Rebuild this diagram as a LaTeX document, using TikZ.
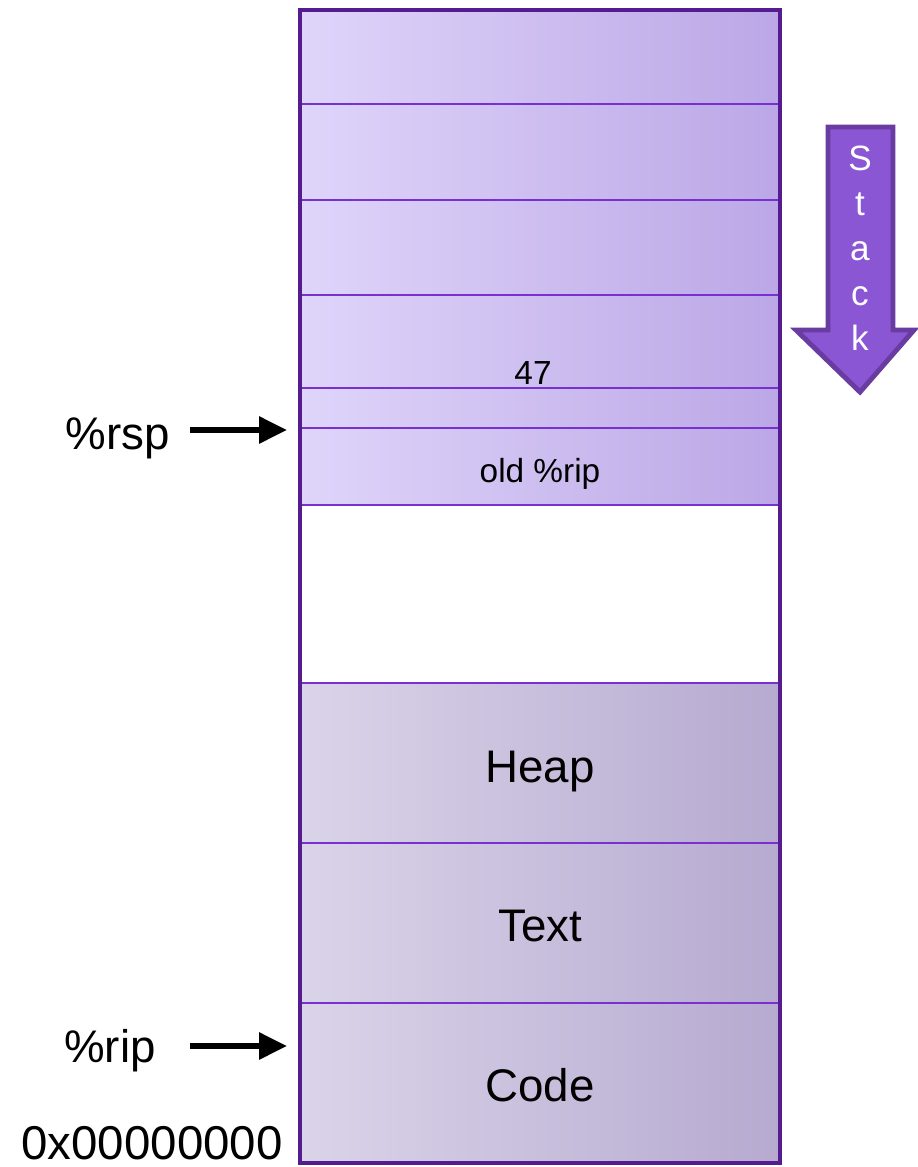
\documentclass[tikz,border=0pt]{standalone}
\usepackage{fontspec}
\setmainfont{Liberation Sans}
\usetikzlibrary{arrows.meta}
\definecolor{framepurple}{RGB}{85,27,145}
\definecolor{linepurple}{RGB}{122,48,208}
\definecolor{stackleft}{RGB}{223,213,250}
\definecolor{stackright}{RGB}{187,167,230}
\definecolor{memleft}{RGB}{218,212,233}
\definecolor{memright}{RGB}{182,170,208}
\definecolor{arrowfill}{RGB}{139,86,212}
\definecolor{arrowedge}{RGB}{104,60,160}

\begin{document}
\begin{tikzpicture}[x=0.02cm, y=-0.02cm,
stackcell/.style={draw=linepurple, line width=1.1pt, left color=stackleft, right color=stackright},
memcell/.style={draw=linepurple, line width=1.1pt, left color=memleft, right color=memright},
big/.style={font=\fontsize{26}{30}\selectfont, anchor=base},
small/.style={font=\fontsize{19}{23}\selectfont, anchor=base},
stackletter/.style={font=\fontsize{20}{24}\selectfont, text=white, anchor=base},
pointer/.style={line width=3.4pt, -{Triangle[length=0.56cm,width=0.52cm]}}]
\useasboundingbox (0,0) rectangle (918,1167);
%================================================================
%	Stack frames
\draw[stackcell] (300,10) rectangle (780,104);
\draw[stackcell] (300,104) rectangle (780,200);
\draw[stackcell] (300,200) rectangle (780,295);
\draw[stackcell] (300,295) rectangle (780,388);
\draw[stackcell] (300,388) rectangle (780,428);
\draw[stackcell] (300,428) rectangle (780,505);

%	Heap, text, code
\draw[memcell] (300,683) rectangle (780,843);
\draw[memcell] (300,843) rectangle (780,1003);
\draw[memcell] (300,1003) rectangle (780,1163);

%	Outer frame
\draw[framepurple, line width=2.4pt] (300,10) rectangle (780,1163);

%================================================================
%	Nodes
\node[small] (val) at (533,384) {47};
\node[small] (oldrip) at (540,482) {old \%rip};

\node[big] (heap) at (540,782) {Heap};
\node[big] (text) at (540,941) {Text};
\node[big] (code) at (540,1101) {Code};

\node[big] (rsp) at (118,449) {\%rsp};
\node[big] (rip) at (110,1062) {\%rip};
\node[big, font=\fontsize{27}{31}\selectfont] (addr) at (152,1159) {0x00000000};

\coordinate (rsptip) at (287,430);
\coordinate (riptip) at (287,1046);

%----------------------------------------------------------------
%	Stack grows down
\draw[fill=arrowfill, draw=arrowedge, line width=2.8pt, line join=miter]
  (828,127) -- (893,127) -- (893,330) -- (914,330) -- (860,392)
  -- (796,330) -- (828,330) -- cycle;
\foreach \c [count=\i from 0] in {S,t,a,c,k}
  \node[stackletter] (st\i) at (860,170+45*\i) {\c};

%================================================================
%	Lines
\draw[pointer, shorten <=0.28cm] (rsp.east |- rsptip) -- (rsptip);
\draw[pointer, shorten <=0.56cm] (rip.east |- riptip) -- (riptip);
%================================================================
\end{tikzpicture}
\end{document}
